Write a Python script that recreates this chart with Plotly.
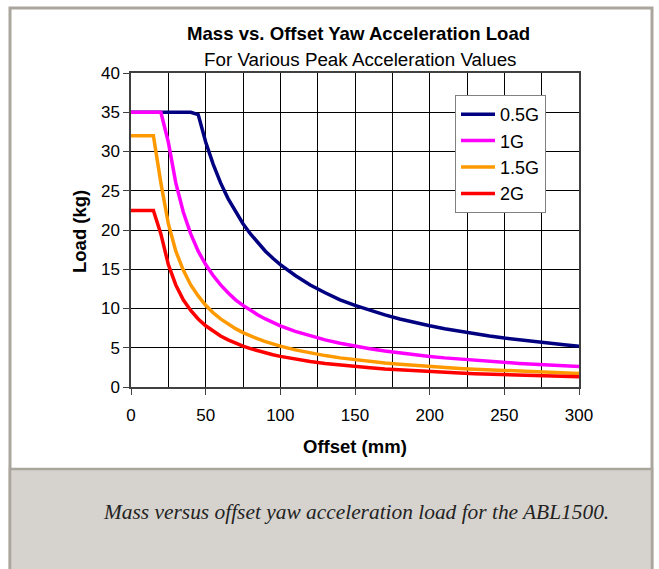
import plotly.graph_objects as go

# ---- data ----
offset_mm = [0, 5, 10, 15, 20, 25, 30, 35, 40, 45, 50, 55, 60, 65, 70, 75, 80, 85, 90, 95, 100,
             110, 120, 130, 140, 150, 160, 170, 180, 190, 200, 210, 220, 230, 240, 250,
             260, 270, 280, 290, 300]

load_05g = [35, 35, 35, 35, 35, 35, 35, 35, 35, 34.7, 31.2, 28.4, 26.0, 24.0, 22.3, 20.8, 19.5,
            18.4, 17.3, 16.4, 15.6, 14.2, 13.0, 12.0, 11.1, 10.4, 9.75, 9.18, 8.67, 8.21, 7.8,
            7.43, 7.09, 6.78, 6.5, 6.24, 6.0, 5.78, 5.57, 5.38, 5.2]

load_1g = [35, 35, 35, 35, 35, 31.2, 26.0, 22.3, 19.5, 17.3, 15.6, 14.2, 13.0, 12.0, 11.1, 10.4,
           9.75, 9.18, 8.67, 8.21, 7.8, 7.09, 6.5, 6.0, 5.57, 5.2, 4.88, 4.59, 4.33, 4.11, 3.9,
           3.71, 3.55, 3.39, 3.25, 3.12, 3.0, 2.89, 2.79, 2.69, 2.6]

load_15g = [32, 32, 32, 32, 26.0, 20.8, 17.3, 14.9, 13.0, 11.6, 10.4, 9.45, 8.67, 8.0, 7.43, 6.93,
            6.5, 6.12, 5.78, 5.47, 5.2, 4.73, 4.33, 4.0, 3.71, 3.47, 3.25, 3.06, 2.89, 2.74, 2.6,
            2.48, 2.36, 2.26, 2.17, 2.08, 2.0, 1.93, 1.86, 1.79, 1.73]

load_2g = [22.5, 22.5, 22.5, 22.5, 19.5, 15.6, 13.0, 11.1, 9.75, 8.67, 7.8, 7.09, 6.5, 6.0, 5.57,
           5.2, 4.88, 4.59, 4.33, 4.11, 3.9, 3.55, 3.25, 3.0, 2.79, 2.6, 2.44, 2.29, 2.17, 2.05,
           1.95, 1.86, 1.77, 1.7, 1.63, 1.56, 1.5, 1.44, 1.39, 1.34, 1.3]

series_names = ["0.5G", "1G", "1.5G", "2G"]
series_values = [load_05g, load_1g, load_15g, load_2g]
series_colors = ["#000080", "#FF00FF", "#FF9900", "#FF0000"]

title_text = "Mass vs. Offset Yaw Acceleration Load"
subtitle_text = "For Various Peak Acceleration Values"
caption_text = "Mass versus offset yaw acceleration load for the ABL1500."

# ---- layout geometry (pixels) ----
W, H = 659, 569
PL, PR, PT, PB = 131, 579, 73, 387  # plot area


def px(x):
    return (x - PL) / (PR - PL)


def py(y):
    return (PB - y) / (PB - PT)


FONT = "Liberation Sans, Arial, sans-serif"

fig = go.Figure()
for name, vals, col in zip(series_names, series_values, series_colors):
    fig.add_trace(go.Scatter(x=offset_mm, y=vals, name=name, mode="lines",
                             legendgroup=name,
                             line=dict(color=col, width=3.5)))

fig.update_layout(
    width=W, height=H,
    margin=dict(l=PL, r=W - PR, t=PT, b=H - PB, pad=0),
    paper_bgcolor="white", plot_bgcolor="white",
    font=dict(family=FONT, size=17, color="black"),
    showlegend=True,
    legend=dict(x=px(455), y=py(95), xanchor="left", yanchor="top",
                bgcolor="white", bordercolor="#808080", borderwidth=1,
                font=dict(family=FONT, size=18, color="black"),
                tracegroupgap=0, traceorder="grouped", itemwidth=34),
    xaxis=dict(range=[0, 300], dtick=50, tick0=0, showgrid=True, gridcolor="#000000",
               gridwidth=1, ticks="outside", ticklen=6, tickcolor="#404040",
               showline=True, linecolor="#404040", linewidth=1.5, mirror=True,
               zeroline=False, ticklabelstandoff=6,
               minor=dict(dtick=25, showgrid=True, gridcolor="#000000", gridwidth=1),
               tickfont=dict(family=FONT, size=17)),
    yaxis=dict(range=[0, 40], dtick=5, tick0=0, showgrid=True, gridcolor="#000000",
               gridwidth=1, ticks="outside", ticklen=6, tickcolor="#404040",
               showline=True, linecolor="#404040", linewidth=1.5, mirror=True,
               zeroline=False, tickfont=dict(family=FONT, size=17)),
    shapes=[
        # outer frame
        dict(type="rect", xref="paper", yref="paper",
             x0=px(10), x1=px(652), y0=py(575), y1=py(8),
             line=dict(color="#aaa69e", width=3), fillcolor="rgba(0,0,0,0)", layer="below"),
        # caption band
        dict(type="rect", xref="paper", yref="paper",
             x0=px(10), x1=px(652), y0=py(575), y1=py(469),
             line=dict(color="#aaa69e", width=2.5), fillcolor="#d6d3ce", layer="below"),
    ],
    annotations=[
        dict(text="<b>" + title_text + "</b>", xref="paper", yref="paper",
             x=px(358), y=py(33), xanchor="center", yanchor="middle", showarrow=False,
             font=dict(family=FONT, size=18.6, color="black")),
        dict(text=subtitle_text, xref="paper", yref="paper",
             x=px(360), y=py(60), xanchor="center", yanchor="middle", showarrow=False,
             font=dict(family=FONT, size=18.8, color="black")),
        dict(text="<b>Offset (mm)</b>", xref="paper", yref="paper",
             x=px(355), y=py(446), xanchor="center", yanchor="middle", showarrow=False,
             font=dict(family=FONT, size=18.5, color="black")),
        dict(text="<b>Load (kg)</b>", xref="paper", yref="paper",
             x=px(79), y=py(232), xanchor="center", yanchor="middle", showarrow=False,
             textangle=-90, font=dict(family=FONT, size=18.5, color="black")),
        dict(text="<i>" + caption_text + "</i>", xref="paper", yref="paper",
             x=px(356), y=py(512), xanchor="center", yanchor="middle", showarrow=False,
             font=dict(family="Liberation Serif, Times New Roman, serif", size=21.4,
                       color="#222222")),
    ],
)

fig.write_html("out.html", config={"displayModeBar": False},
               post_script="document.body.style.margin='0px';")
